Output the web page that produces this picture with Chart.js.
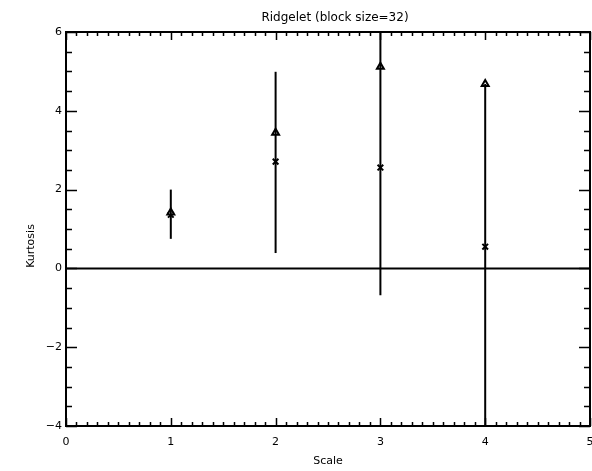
<!DOCTYPE html>
<html>
<head>
<meta charset="utf-8">
<script src="https://cdn.jsdelivr.net/npm/chart.js@4"></script>
<style>
  body { margin: 0; background: #fff; }
  canvas { display: block; }
</style>
</head>
<body>
<canvas id="myChart" width="592" height="471"></canvas>
<script>
// kurtosis per ridgelet scale
var scales = [1, 2, 3, 4];
var kurtTriangle = [1.42, 3.44, 5.12, 4.68];
var kurtCross = [1.36, 2.71, 2.56, 0.55];
var barLow = [0.75, 0.39, -0.68, -4.0];
var barHigh = [2.0, 4.99, 6.0, 4.68];
var xTicks = [0, 1, 2, 3, 4, 5];
var yTicks = [-4, -2, 0, 2, 4, 6];

function pts(xs, ys) {
    return xs.map(function (x, i) { return { x: x, y: ys[i] }; });
}

var datasets = [];

// vertical bars, one small line per scale
scales.forEach(function (s, i) {
    datasets.push({
        type: 'line',
        data: [{ x: s, y: barLow[i] }, { x: s, y: barHigh[i] }],
        borderColor: '#000',
        borderWidth: 2,
        pointRadius: 0,
        showLine: true
    });
});

// horizontal line at zero
datasets.push({
    type: 'line',
    data: [{ x: xTicks[0], y: 0 }, { x: xTicks[xTicks.length - 1], y: 0 }],
    borderColor: '#000',
    borderWidth: 2,
    pointRadius: 0,
    showLine: true
});

datasets.push({
    label: 'triangle',
    data: pts(scales, kurtTriangle),
    pointStyle: 'triangle',
    pointRadius: 4,
    borderWidth: 2,
    borderColor: '#000',
    backgroundColor: '#fff',
    showLine: false
});

datasets.push({
    label: 'cross',
    data: pts(scales, kurtCross),
    pointStyle: 'crossRot',
    pointRadius: 4,
    borderWidth: 2,
    borderColor: '#000',
    showLine: false
});

// box with inward major / minor ticks on all four sides, plus titles
var frame = {
    id: 'frame',
    afterDatasetsDraw: function (chart) {
        var c = chart.ctx, a = chart.chartArea;
        var xs = chart.scales.x, ys = chart.scales.y;
        c.save();
        c.strokeStyle = '#000';
        c.lineWidth = 2;
        c.strokeRect(a.left, a.top, a.right - a.left, a.bottom - a.top);
        c.beginPath();
        var v, p, len;
        for (v = 0; v <= 50; v++) {
            p = Math.round(xs.getPixelForValue(v / 10)) + 0.5;
            len = (v % 10 === 0) ? 8 : 4;
            c.moveTo(p, a.bottom); c.lineTo(p, a.bottom - len);
            c.moveTo(p, a.top); c.lineTo(p, a.top + len);
        }
        for (v = -8; v <= 12; v++) {
            p = Math.round(ys.getPixelForValue(v / 2)) + 0.5;
            len = (v % 4 === 0) ? 11 : 6;
            c.moveTo(a.left, p); c.lineTo(a.left + len, p);
            c.moveTo(a.right, p); c.lineTo(a.right - len, p);
        }
        c.lineWidth = 1.5;
        c.stroke();

        c.fillStyle = '#000';
        c.textAlign = 'center';
        c.textBaseline = 'middle';
        // x tick labels (drawn here so the last one may run past the edge)
        c.font = '11px "DejaVu Sans"';
        xTicks.forEach(function (t) {
            c.fillText(String(t), xs.getPixelForValue(t), a.bottom + 16);
        });
        c.font = '12px "DejaVu Sans"';
        c.fillText('Ridgelet (block size=32)', 335, 18);
        c.font = '11px "DejaVu Sans"';
        c.translate(31, 246);
        c.rotate(-Math.PI / 2);
        c.fillText('Kurtosis', 0, 0);
        c.restore();
    }
};

var ctx = document.getElementById('myChart').getContext('2d');
var chart = new Chart(ctx, {
    type: 'scatter',
    data: { datasets: datasets },
    plugins: [frame],
    options: {
        responsive: false,
        devicePixelRatio: 1,
        animation: false,
        layout: { autoPadding: false, padding: { left: 0, right: 2, top: 32, bottom: 0 } },
        plugins: {
            legend: { display: false },
            tooltip: { enabled: false },
            title: { display: false }
        },
        scales: {
            x: {
                type: 'linear',
                min: 0, max: 5,
                afterBuildTicks: function (s) { s.ticks = xTicks.map(function (v) { return { value: v }; }); },
                afterFit: function (s) { s.height = 45; },
                grid: { display: false, drawTicks: false },
                border: { display: false },
                ticks: { display: false },
                title: {
                    display: true, text: 'Scale', color: '#000',
                    font: { family: 'DejaVu Sans', size: 11 },
                    padding: { top: 0, bottom: 3 }
                }
            },
            y: {
                min: -4, max: 6,
                afterBuildTicks: function (s) { s.ticks = yTicks.map(function (v) { return { value: v }; }); },
                afterFit: function (s) { s.width = 66; },
                grid: { display: false, drawTicks: false },
                border: { display: false },
                ticks: {
                    color: '#000', padding: 4,
                    font: { family: 'DejaVu Sans', size: 11 },
                    callback: function (v) { return String(v).replace('-', '\u2212'); }
                }
            }
        }
    }
});
</script>
</body>
</html>
